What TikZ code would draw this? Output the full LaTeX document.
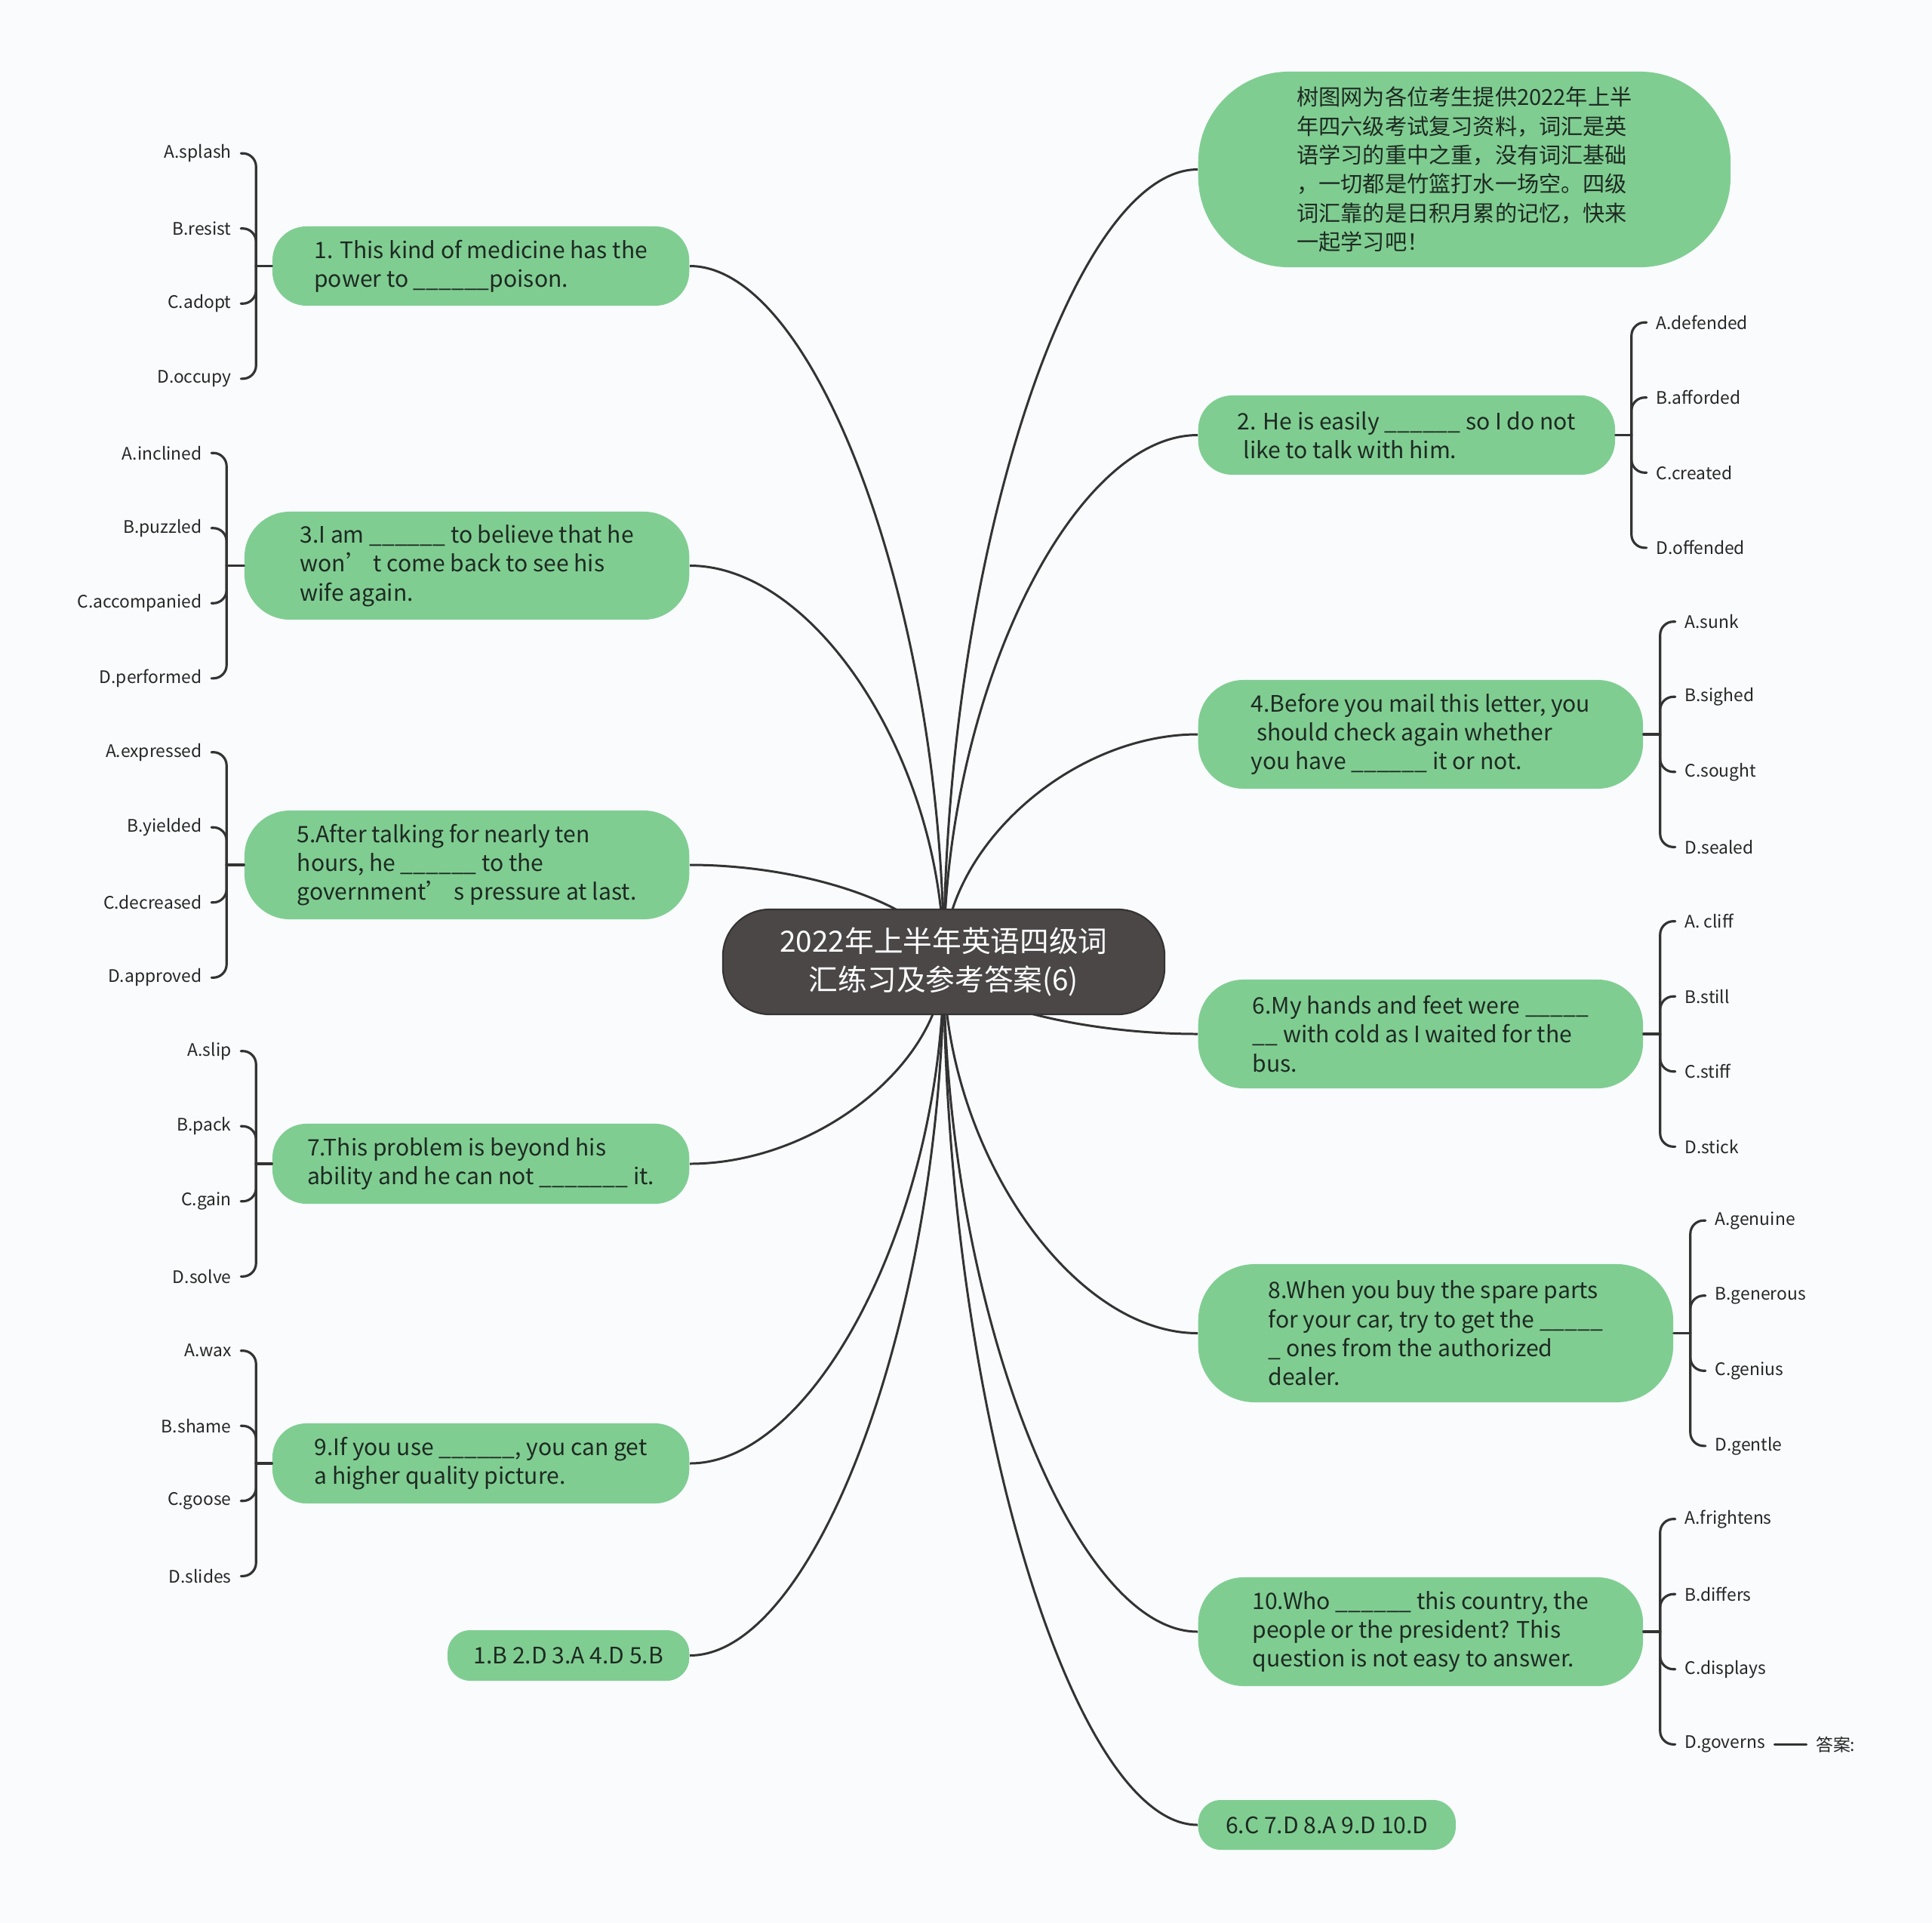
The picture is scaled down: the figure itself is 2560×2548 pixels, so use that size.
\documentclass[tikz,border=0pt]{standalone}
\usepackage{fontspec}
\setmainfont{Noto Sans CJK SC}
\usetikzlibrary{positioning,calc,backgrounds}

\definecolor{bgpaper}{HTML}{F9FBFD}
\definecolor{qgreen}{HTML}{80CD92}
\definecolor{hubgray}{HTML}{4B4747}
\definecolor{linkgray}{HTML}{333333}
\definecolor{qtext}{HTML}{1D2A21}

\tikzset{
  hub/.style={fill=hubgray, draw=hubgray!70!black, line width=0.6pt, text=white, align=center,
    rounded corners=0.62cm, minimum width=5.85cm, minimum height=1.39cm, inner sep=0pt,
    font=\fontsize{11}{14.4}\selectfont},
  qbox/.style={fill=qgreen, text=qtext, align=left, inner sep=0pt,
    font=\fontsize{8.55}{10.9}\selectfont},
  leaf/.style={inner sep=3.4pt, text=black!85, font=\fontsize{6.5}{8}\selectfont},
  link/.style={draw=linkgray, line width=0.85pt},
  brace/.style={draw=linkgray, line width=0.9pt, rounded corners=5pt},
}

\begin{document}
\begin{tikzpicture}[x=0.01cm, y=-0.01cm, line cap=round, line join=round]
    \useasboundingbox (0,0) rectangle (2560,2548);

    % centre
    \node[hub] (c) at (1250.5,1274.5) {2022年上半年英语四级词\\汇练习及参考答案(6)};

    % right side
    \node[qbox, anchor=west, minimum width=7.05cm, minimum height=2.59cm, rounded corners=1.2cm,
      font=\fontsize{8.3}{10.9}\selectfont] (intro) at (1587,224.5)
      {树图网为各位考生提供2022年上半\\年四六级考试复习资料，词汇是英\\语学习的重中之重，没有词汇基础\\，一切都是竹篮打水一场空。四级\\词汇靠的是日积月累的记忆，快来\\一起学习吧！};
    \node[qbox, anchor=west, minimum width=5.52cm, minimum height=1.05cm, rounded corners=0.45cm] (q2) at (1587,576.5)
      {2. He is easily \_\_\_\_\_\_ so I do not\\\hspace{0.25em}like to talk with him.};
    \node[qbox, anchor=west, minimum width=5.89cm, minimum height=1.44cm, rounded corners=0.6cm] (q4) at (1587,973)
      {4.Before you mail this letter, you\\\hspace{0.25em}should check again whether\\you have \_\_\_\_\_\_ it or not.};
    \node[qbox, anchor=west, minimum width=5.89cm, minimum height=1.44cm, rounded corners=0.6cm] (q6) at (1587,1370)
      {6.My hands and feet were \_\_\_\_\_\\\_\_ with cold as I waited for the\\bus.};
    \node[qbox, anchor=west, minimum width=6.29cm, minimum height=1.83cm, rounded corners=0.75cm] (q8) at (1587,1766.5)
      {8.When you buy the spare parts\\for your car, try to get the \_\_\_\_\_\\\_ ones from the authorized\\dealer.};
    \node[qbox, anchor=west, minimum width=5.89cm, minimum height=1.44cm, rounded corners=0.6cm] (q10) at (1587,2162)
      {10.Who \_\_\_\_\_\_ this country, the\\people or the president? This\\question is not easy to answer.};
    \node[qbox, anchor=west, minimum width=3.41cm, minimum height=0.66cm, rounded corners=0.3cm] (ans2) at (1587,2418)
      {6.C 7.D 8.A 9.D 10.D};

    % left side
    \node[qbox, anchor=east, minimum width=5.52cm, minimum height=1.05cm, rounded corners=0.45cm] (q1) at (914,352.5)
      {1. This kind of medicine has the\\power to \_\_\_\_\_\_poison.};
    \node[qbox, anchor=east, minimum width=5.89cm, minimum height=1.43cm, rounded corners=0.6cm] (q3) at (914,749.5)
      {3.I am \_\_\_\_\_\_ to believe that he\\won’ t come back to see his\\wife again.};
    \node[qbox, anchor=east, minimum width=5.89cm, minimum height=1.44cm, rounded corners=0.6cm] (q5) at (914,1146)
      {5.After talking for nearly ten\\hours, he \_\_\_\_\_\_ to the\\government’ s pressure at last.};
    \node[qbox, anchor=east, minimum width=5.52cm, minimum height=1.06cm, rounded corners=0.45cm] (q7) at (914,1542)
      {7.This problem is beyond his\\ability and he can not \_\_\_\_\_\_\_ it.};
    \node[qbox, anchor=east, minimum width=5.52cm, minimum height=1.06cm, rounded corners=0.45cm] (q9) at (914,1939)
      {9.If you use \_\_\_\_\_\_, you can get\\a higher quality picture.};
    \node[qbox, anchor=east, minimum width=3.2cm, minimum height=0.67cm, rounded corners=0.3cm] (ans1) at (914,2193.5)
      {1.B 2.D 3.A 4.D 5.B};

    % option brackets, left
    \coordinate[left=0.21cm of q1] (q1j);
    \coordinate[left=0.23cm of q3] (q3j);
    \coordinate[left=0.23cm of q5] (q5j);
    \coordinate[left=0.21cm of q7] (q7j);
    \coordinate[left=0.21cm of q9] (q9j);
    \draw[brace] (q1.west) -- (q1j);
    \draw[brace] (q3.west) -- (q3j);
    \draw[brace] (q5.west) -- (q5j);
    \draw[brace] (q7.west) -- (q7j);
    \draw[brace] (q9.west) -- (q9j);
    \foreach \o [count=\i] in {A.splash,B.resist,C.adopt,D.occupy} {
      \node[leaf, left=0.2cm of q1j, yshift={(2.5-\i)*0.995cm}] (q1o\i) {\o};
      \draw[brace] (q1j) |- (q1o\i.east);
    }
    \foreach \o [count=\i] in {A.inclined,B.puzzled,C.accompanied,D.performed} {
      \node[leaf, left=0.2cm of q3j, yshift={(2.5-\i)*0.995cm}] (q3o\i) {\o};
      \draw[brace] (q3j) |- (q3o\i.east);
    }
    \foreach \o [count=\i] in {A.expressed,B.yielded,C.decreased,D.approved} {
      \node[leaf, left=0.2cm of q5j, yshift={(2.5-\i)*0.995cm}] (q5o\i) {\o};
      \draw[brace] (q5j) |- (q5o\i.east);
    }
    \foreach \o [count=\i] in {A.slip,B.pack,C.gain,D.solve} {
      \node[leaf, left=0.2cm of q7j, yshift={(2.5-\i)*0.995cm}] (q7o\i) {\o};
      \draw[brace] (q7j) |- (q7o\i.east);
    }
    \foreach \o [count=\i] in {A.wax,B.shame,C.goose,D.slides} {
      \node[leaf, left=0.2cm of q9j, yshift={(2.5-\i)*0.995cm}] (q9o\i) {\o};
      \draw[brace] (q9j) |- (q9o\i.east);
    }

    % option brackets, right
    \coordinate[right=0.21cm of q2] (q2j);
    \coordinate[right=0.22cm of q4] (q4j);
    \coordinate[right=0.22cm of q6] (q6j);
    \coordinate[right=0.22cm of q8] (q8j);
    \coordinate[right=0.22cm of q10] (q10j);
    \draw[brace] (q2.east) -- (q2j);
    \draw[brace] (q4.east) -- (q4j);
    \draw[brace] (q6.east) -- (q6j);
    \draw[brace] (q8.east) -- (q8j);
    \draw[brace] (q10.east) -- (q10j);
    \foreach \o [count=\i] in {A.defended,B.afforded,C.created,D.offended} {
      \node[leaf, right=0.2cm of q2j, yshift={(2.5-\i)*0.995cm}] (q2o\i) {\o};
      \draw[brace] (q2j) |- (q2o\i.west);
    }
    \foreach \o [count=\i] in {A.sunk,B.sighed,C.sought,D.sealed} {
      \node[leaf, right=0.2cm of q4j, yshift={(2.5-\i)*0.995cm}] (q4o\i) {\o};
      \draw[brace] (q4j) |- (q4o\i.west);
    }
    \foreach \o [count=\i] in {A. cliff,B.still,C.stiff,D.stick} {
      \node[leaf, right=0.2cm of q6j, yshift={(2.5-\i)*0.995cm}] (q6o\i) {\o};
      \draw[brace] (q6j) |- (q6o\i.west);
    }
    \foreach \o [count=\i] in {A.genuine,B.generous,C.genius,D.gentle} {
      \node[leaf, right=0.2cm of q8j, yshift={(2.5-\i)*0.995cm}] (q8o\i) {\o};
      \draw[brace] (q8j) |- (q8o\i.west);
    }
    \foreach \o [count=\i] in {A.frightens,B.differs,C.displays,D.governs} {
      \node[leaf, right=0.2cm of q10j, yshift={(2.5-\i)*0.995cm}] (q10o\i) {\o};
      \draw[brace] (q10j) |- (q10o\i.west);
    }
    \node[leaf, right=0.42cm of q10o4] (anslabel) {答案:};
    \draw[brace] (q10o4.east) -- (anslabel.west);

    % branches from the centre
    \begin{scope}[on background layer]
      \fill[bgpaper] (0,0) rectangle (2560,2548);
      \foreach \a in {q1.east,q3.east,q5.east,q7.east,q9.east,ans1.east,
                      intro.west,q2.west,q4.west,q6.west,q8.west,q10.west,ans2.west}
        \draw[link] (\a) .. controls ($(\a)!0.5!(c.center |- \a)$)
          and ($(c.center)!0.5!(c.center |- \a)$) .. (c.center);
    \end{scope}
\end{tikzpicture}
\end{document}
